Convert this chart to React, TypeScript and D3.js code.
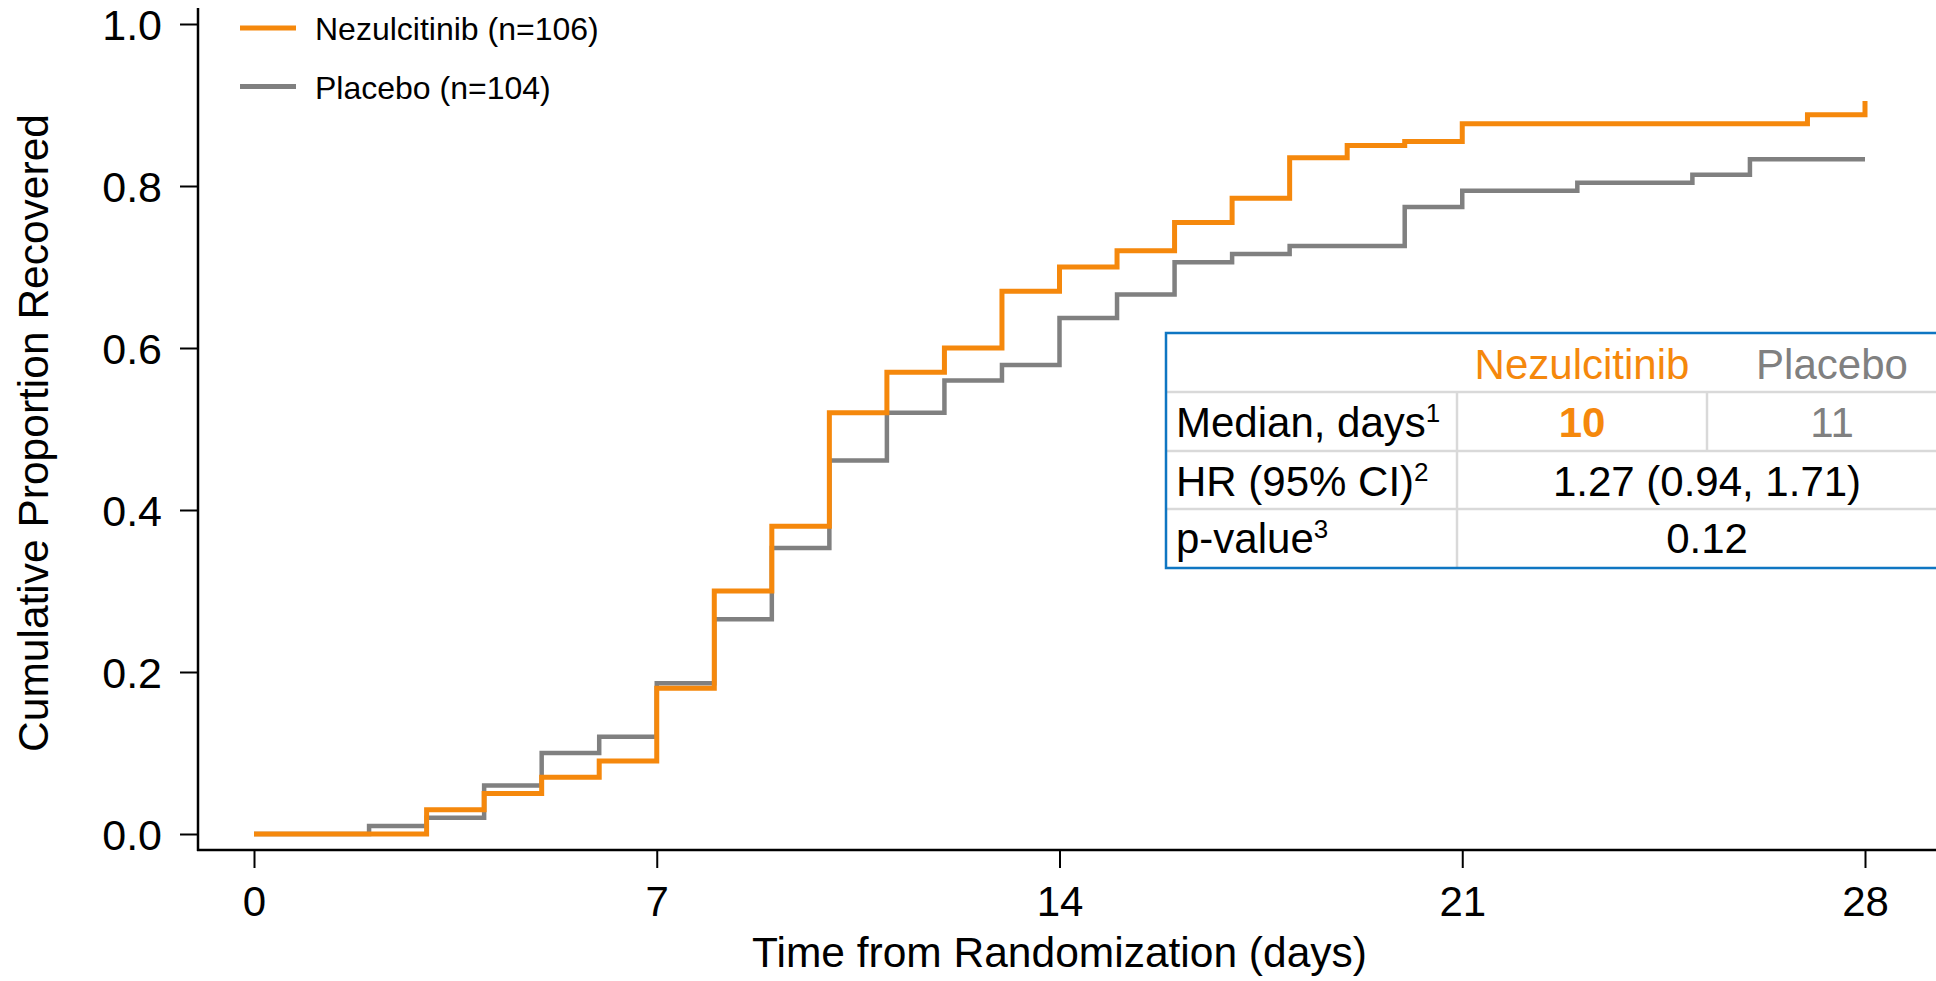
import React, { useEffect, useRef } from "react";
import * as d3 from "d3";

// Kaplan-Meier style cumulative recovery
const nezDays = [0, 3, 4, 5, 6, 7, 8, 9, 10, 11, 12, 13, 14, 15, 16, 17, 18, 19, 20, 21, 27, 28];
const nezValues = [
  0, 0.03, 0.05, 0.07, 0.09, 0.18, 0.3, 0.38, 0.52, 0.57, 0.6, 0.67, 0.7, 0.72, 0.755, 0.785, 0.835,
  0.85, 0.855, 0.877, 0.888, 0.905,
];

const placeboDays = [0, 2, 3, 4, 5, 6, 7, 8, 9, 10, 11, 12, 13, 14, 15, 16, 17, 18, 20, 21, 23, 25, 26, 28];
const placeboValues = [
  0, 0.01, 0.02, 0.06, 0.1, 0.12, 0.186, 0.265, 0.353, 0.461, 0.52, 0.56, 0.579, 0.637, 0.666, 0.706,
  0.716, 0.726, 0.774, 0.794, 0.804, 0.814, 0.833, 0.833,
];

const xTicks = [0, 7, 14, 21, 28];
const yTicks = [0, 0.2, 0.4, 0.6, 0.8, 1.0];

const legendLabels = ["Nezulcitinib (n=106)", "Placebo (n=104)"];
const tableHeader = ["", "Nezulcitinib", "Placebo"];
const medianRow = ["Median, days", "1", "10", "11"];
const hrRow = ["HR (95% CI)", "2", "1.27 (0.94, 1.71)"];
const pRow = ["p-value", "3", "0.12"];

const ORANGE = "#F5880C";
const GRAY = "#808080";
const BLUE = "#0F76C2";
const GRID = "#D9D9D9";
const FONT = "'Liberation Sans', Arial, Helvetica, sans-serif";

const App = () => {
  const svgRef = useRef<SVGSVGElement>(null);

  useEffect(() => {
    const width = 1936;
    const height = 981;

    const svg = d3.select(svgRef.current).attr("width", width).attr("height", height);
    svg.selectAll("*").remove();

    const x = d3.scaleLinear().domain([0, 28]).range([254, 1865]);
    const y = d3.scaleLinear().domain([0, 1]).range([834, 24]);

    const axisX0 = 198; // y axis position
    const axisY0 = 850; // x axis position

    // axis lines
    svg.append("line")
      .attr("x1", axisX0).attr("x2", axisX0)
      .attr("y1", 8).attr("y2", axisY0 + 1)
      .attr("stroke", "#000").attr("stroke-width", 2.5);
    svg.append("line")
      .attr("x1", axisX0 - 1).attr("x2", width)
      .attr("y1", axisY0).attr("y2", axisY0)
      .attr("stroke", "#000").attr("stroke-width", 2.5);

    // y axis
    const yAxis = svg.append("g")
      .attr("transform", `translate(${axisX0},0)`)
      .call(d3.axisLeft(y).tickValues(yTicks).tickSize(18).tickPadding(18).tickFormat(d3.format(".1f")));
    yAxis.select(".domain").remove();
    yAxis.selectAll("line").attr("stroke-width", 2);
    yAxis.selectAll("text")
      .attr("font-family", FONT).attr("font-size", 43).attr("fill", "#000")
      .attr("dy", "0.36em");

    // x axis
    const xAxis = svg.append("g")
      .attr("transform", `translate(0,${axisY0})`)
      .call(d3.axisBottom(x).tickValues(xTicks).tickSize(18).tickPadding(18).tickFormat(d3.format("d")));
    xAxis.select(".domain").remove();
    xAxis.selectAll("line").attr("stroke-width", 2);
    xAxis.selectAll("text")
      .attr("font-family", FONT).attr("font-size", 42).attr("fill", "#000")
      .attr("dy", "0.72em");

    // axis titles
    svg.append("text")
      .attr("x", x(14)).attr("y", 967)
      .attr("text-anchor", "middle")
      .attr("font-family", FONT).attr("font-size", 42.5)
      .text("Time from Randomization (days)");

    svg.append("text")
      .attr("transform", `translate(48, ${y(0.5) + 4}) rotate(-90)`)
      .attr("text-anchor", "middle")
      .attr("font-family", FONT).attr("font-size", 42.5)
      .text("Cumulative Proportion Recovered");

    // curves
    const line = d3.line<[number, number]>()
      .x((d) => x(d[0]))
      .y((d) => y(d[1]))
      .curve(d3.curveStepAfter);

    const placeboPts = placeboDays.map((d, i) => [d, placeboValues[i]] as [number, number]);
    const nezPts = nezDays.map((d, i) => [d, nezValues[i]] as [number, number]);

    svg.append("path")
      .datum(placeboPts)
      .attr("fill", "none").attr("stroke", GRAY).attr("stroke-width", 4.5)
      .attr("d", line);
    svg.append("path")
      .datum(nezPts)
      .attr("fill", "none").attr("stroke", ORANGE).attr("stroke-width", 5)
      .attr("d", line);

    // legend
    const legend = svg.append("g");
    [ORANGE, GRAY].forEach((c, i) => {
      const ly = 28 + i * 58.5;
      legend.append("line")
        .attr("x1", 240).attr("x2", 296).attr("y1", ly).attr("y2", ly)
        .attr("stroke", c).attr("stroke-width", 4.8);
      legend.append("text")
        .attr("x", 315).attr("y", ly + 12)
        .attr("font-family", FONT).attr("font-size", 32)
        .text(legendLabels[i]);
    });

    // summary table
    const tX = [1166, 1457, 1707, 1957];
    const tY = [333, 392, 451, 509, 568];
    const table = svg.append("g").attr("font-family", FONT).attr("font-size", 42);

    // row separators
    [1, 2, 3].forEach((r) => {
      table.append("line")
        .attr("x1", tX[0]).attr("x2", tX[3]).attr("y1", tY[r]).attr("y2", tY[r])
        .attr("stroke", GRID).attr("stroke-width", 2.5);
    });
    // column separators (not in header row)
    table.append("line")
      .attr("x1", tX[1]).attr("x2", tX[1]).attr("y1", tY[1]).attr("y2", tY[4])
      .attr("stroke", GRID).attr("stroke-width", 2.5);
    table.append("line")
      .attr("x1", tX[2]).attr("x2", tX[2]).attr("y1", tY[1]).attr("y2", tY[2])
      .attr("stroke", GRID).attr("stroke-width", 2.5);

    table.append("rect")
      .attr("x", tX[0]).attr("y", tY[0])
      .attr("width", tX[3] - tX[0]).attr("height", tY[4] - tY[0])
      .attr("fill", "none").attr("stroke", BLUE).attr("stroke-width", 2.5);

    const colC = (a: number, b: number) => (tX[a] + tX[b]) / 2;

    // header
    table.append("text")
      .attr("x", colC(1, 2)).attr("y", 379).attr("text-anchor", "middle")
      .attr("fill", ORANGE).text(tableHeader[1]);
    table.append("text")
      .attr("x", colC(2, 3)).attr("y", 379).attr("text-anchor", "middle")
      .attr("fill", GRAY).text(tableHeader[2]);

    const rowLabel = (txt: string, sup: string, base: number) => {
      const t = table.append("text").attr("x", tX[0] + 10).attr("y", base).attr("fill", "#000");
      t.append("tspan").text(txt);
      t.append("tspan").attr("font-size", 26).attr("dy", -15).text(sup);
    };

    rowLabel(medianRow[0], medianRow[1], 437);
    table.append("text")
      .attr("x", colC(1, 2)).attr("y", 437).attr("text-anchor", "middle")
      .attr("fill", ORANGE).attr("font-weight", "bold").text(medianRow[2]);
    table.append("text")
      .attr("x", colC(2, 3)).attr("y", 437).attr("text-anchor", "middle")
      .attr("fill", GRAY).text(medianRow[3]);

    rowLabel(hrRow[0], hrRow[1], 496);
    table.append("text")
      .attr("x", colC(1, 3)).attr("y", 496).attr("text-anchor", "middle")
      .attr("fill", "#000").text(hrRow[2]);

    rowLabel(pRow[0], pRow[1], 553);
    table.append("text")
      .attr("x", colC(1, 3)).attr("y", 553).attr("text-anchor", "middle")
      .attr("fill", "#000").text(pRow[2]);
  }, []);

  return (
    <div style={{ position: "fixed", left: 0, top: 0, width: 1936, height: 981, background: "#fff" }}>
      <svg ref={svgRef} style={{ display: "block" }}></svg>
    </div>
  );
};

export default App;
